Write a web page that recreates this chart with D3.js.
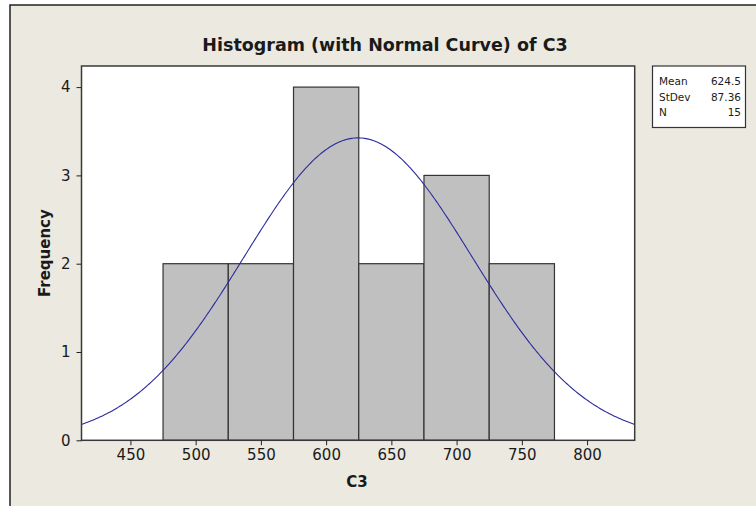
<!DOCTYPE html>
<html>
<head>
<meta charset="utf-8">
<script src="https://cdn.jsdelivr.net/npm/d3@7"></script>
<style>
  html, body { margin: 0; padding: 0; background: #ffffff; }
  svg { display: block; }
  text { font-family: "DejaVu Sans", Verdana, sans-serif; fill: #1a1a1a; }
</style>
</head>
<body>
<div id="grafico"></div>
<script>
// dados do histograma
const binInicio = [475, 525, 575, 625, 675, 725];
const binLargura = 50;
const frequencias = [2, 2, 4, 2, 3, 2];
const ticksX = [450, 500, 550, 600, 650, 700, 750, 800];
const ticksY = [0, 1, 2, 3, 4];
const estatLabels = ["Mean", "StDev", "N"];
const estatValores = ["624.5", "87.36", "15"];
const media = 624.5;
const desvio = 87.36;
const n = 15;

desenharHistograma();

function desenharHistograma() {
    const width = 756;
    const height = 506;
    const plot = { left: 81.5, right: 634.7, top: 66, bottom: 440.3 };

    const svg = d3.select("#grafico")
        .append("svg")
        .attr("width", width)
        .attr("height", height);

    // fundo e moldura
    svg.append("rect")
        .attr("x", 10).attr("y", 5)
        .attr("width", width + 10).attr("height", height + 10)
        .attr("fill", "#ece9e1")
        .attr("stroke", "#222")
        .attr("stroke-width", 1.5);

    // escalas
    const xScale = d3.scaleLinear()
        .domain([412.5, 836.5])
        .range([plot.left, plot.right]);

    const yScale = d3.scaleLinear()
        .domain([0, 4.239])
        .range([plot.bottom, plot.top]);

    // area do grafico
    svg.append("rect")
        .attr("x", plot.left).attr("y", plot.top)
        .attr("width", plot.right - plot.left)
        .attr("height", plot.bottom - plot.top)
        .attr("fill", "#ffffff");

    // barras
    svg.selectAll(".barra")
        .data(frequencias)
        .enter().append("rect")
        .attr("class", "barra")
        .attr("x", (d, i) => xScale(binInicio[i]))
        .attr("y", d => yScale(d))
        .attr("width", (d, i) => xScale(binInicio[i] + binLargura) - xScale(binInicio[i]))
        .attr("height", d => yScale(0) - yScale(d))
        .attr("fill", "#c0c0c0")
        .attr("stroke", "#333")
        .attr("stroke-width", 1.2);

    // curva normal ajustada
    const escala = n * binLargura / (desvio * Math.sqrt(2 * Math.PI));
    const xs = d3.range(412.5, 836.6, 1);
    const linha = d3.line()
        .x(d => xScale(d))
        .y(d => yScale(escala * Math.exp(-0.5 * Math.pow((d - media) / desvio, 2))));

    svg.append("path")
        .datum(xs)
        .attr("d", linha)
        .attr("fill", "none")
        .attr("stroke", "#2b2ba0")
        .attr("stroke-width", 1.1);

    // borda do grafico
    svg.append("rect")
        .attr("x", plot.left).attr("y", plot.top)
        .attr("width", plot.right - plot.left)
        .attr("height", plot.bottom - plot.top)
        .attr("fill", "none")
        .attr("stroke", "#3a3a3a")
        .attr("stroke-width", 1.5);

    // eixos
    const eixoX = svg.append("g")
        .attr("transform", `translate(0,${plot.bottom})`)
        .call(d3.axisBottom(xScale).tickValues(ticksX).tickSize(5).tickPadding(4));

    const eixoY = svg.append("g")
        .attr("transform", `translate(${plot.left},0)`)
        .call(d3.axisLeft(yScale).tickValues(ticksY).tickFormat(d3.format("d")).tickSize(5).tickPadding(6));

    [eixoX, eixoY].forEach(g => {
        g.select(".domain").remove();
        g.selectAll("line").attr("stroke", "#222");
        g.selectAll("text")
            .attr("fill", "#1a1a1a")
            .style("font-family", '"DejaVu Sans", Verdana, sans-serif')
            .style("font-size", "15px");
    });

    // titulos
    svg.append("text")
        .attr("x", 385).attr("y", 51)
        .attr("text-anchor", "middle")
        .style("font-size", "17.5px")
        .style("font-weight", "bold")
        .text("Histogram (with Normal Curve) of C3");

    svg.append("text")
        .attr("x", 357).attr("y", 487)
        .attr("text-anchor", "middle")
        .style("font-size", "15px")
        .style("font-weight", "bold")
        .text("C3");

    svg.append("text")
        .attr("transform", `translate(50,${(plot.top + plot.bottom) / 2}) rotate(-90)`)
        .attr("text-anchor", "middle")
        .style("font-size", "15px")
        .style("font-weight", "bold")
        .text("Frequency");

    // legenda com estatisticas
    const leg = svg.append("g");
    leg.append("rect")
        .attr("x", 652.5).attr("y", 66)
        .attr("width", 93).attr("height", 61.5)
        .attr("fill", "#ffffff")
        .attr("stroke", "#333")
        .attr("stroke-width", 1.2);

    estatLabels.forEach((lab, i) => {
        const y = 85 + i * 15.7;
        leg.append("text")
            .attr("x", 659).attr("y", y)
            .style("font-size", "10.5px")
            .text(lab);
        leg.append("text")
            .attr("x", 741).attr("y", y)
            .attr("text-anchor", "end")
            .style("font-size", "10.5px")
            .text(estatValores[i]);
    });
}
</script>
</body>
</html>
